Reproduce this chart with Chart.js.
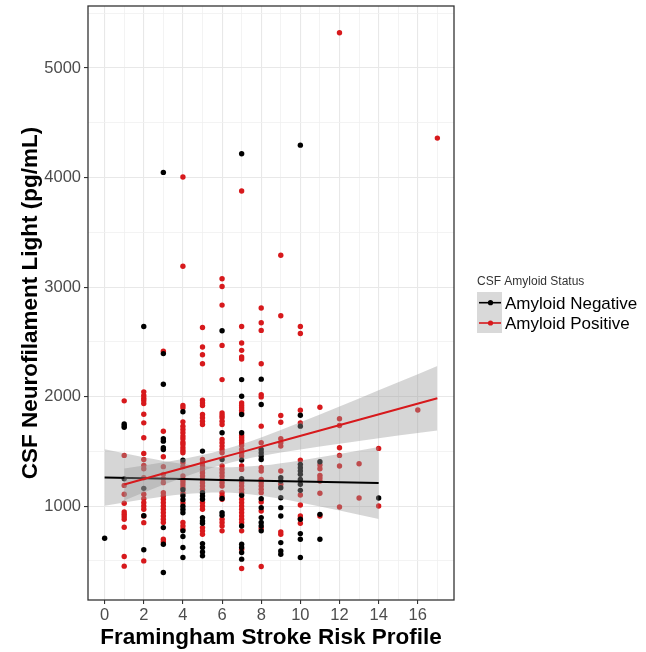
<!DOCTYPE html>
<html><head><meta charset="utf-8">
<script src="https://cdn.jsdelivr.net/npm/chart.js@4.4.1/dist/chart.umd.min.js"></script>
<style>html,body{margin:0;padding:0;background:#fff}#wrap{position:relative;width:646px;height:652px}</style>
</head><body><div id="wrap"><canvas id="c" width="646" height="652"></canvas></div>
<script>
// Framingham Stroke Risk Profile score (index) -> CSF NfL values (pg/mL)
const riskScores = [0,1,2,3,4,5,6,7,8,9,10,11,12,13,14,15,16,17];
const negativeNfl = [
  [708],
  [1750,1735,1720,1250],
  [2641,1163,914,602],
  [4047,2393,2113,1616,1594,1534,1518,805,653,395],
  [1862,1421,1150,1095,1060,1000,970,940,775,723,623,532],
  [1503,1124,1093,1063,896,866,845,659,623,583,547],
  [2602,1670,1427,1070,942,917],
  [4217,2156,2004,1837,1670,1421,1251,1100,820,653,623,577,517],
  [2160,1928,1518,1488,1458,1427,1069,987,896,851,820,775],
  [1260,1230,1169,1078,987,911,668,592,562],
  [4296,1831,1731,1382,1352,1321,1291,1245,1200,1145,881,750,699,532],
  [1406,926,699],
  [],
  [],
  [1075],
  [],
  [],
  []
];
const positiveNfl = [
  [],
  [1962,1464,1190,1109,1027,948,926,905,881,808,541,453],
  [2044,2010,1986,1965,1937,1840,1761,1625,1482,1427,1373,1342,1260,1109,1069,1033,1002,972,911,850,501],
  [2414,1685,1452,1361,1291,1251,1215,1124,1093,1063,1033,1002,972,942,911,881,851,699,675],
  [4005,3190,1919,1898,1770,1731,1701,1670,1640,1616,1585,1564,1534,1509,1488,1397,1361,1276,1245,1221,1197,1169,1120,1030,851,820,790],
  [2632,2453,2383,2301,1968,1943,1919,1837,1807,1776,1746,1427,1397,1367,1336,1306,1276,1245,1215,1184,1154,1033,1002,972,805,775,744],
  [3076,3006,2836,2468,2156,1852,1828,1807,1776,1746,1609,1579,1549,1518,1488,1367,1336,1306,1276,1245,1215,1184,1124,1093,1063,881,851,820,775],
  [3877,2641,2490,2423,2362,2344,1943,1919,1898,1877,1852,1646,1625,1603,1579,1555,1518,1488,1458,1367,1336,1215,1184,1154,1124,1063,1033,1002,972,942,911,881,851,775,608,432],
  [2809,2675,2605,2301,2019,1998,1731,1579,1352,1321,1245,1215,1184,1154,1124,1039,957,796,450],
  [3291,2739,1828,1767,1616,1579,1549,1321,1200,766,744],
  [2641,2577,1877,1761,1421,1103,1011,911,887,845],
  [1904,1376,1342,1282,1257,1230,1118,911],
  [5322,1798,1737,1534,1464,1367,993],
  [1388,1075],
  [1528,1002],
  [],
  [1878],
  [4360]
];
// fitted lines and 95% bands
const negFitX = [0,2,4,6,8,10,12,14];
const negFit = [1262,1255,1248,1240,1233,1226,1219,1212];
const negUpper = [1520,1447,1386,1355,1371,1418,1477,1540];
const negLower = [1004,1063,1110,1125,1095,1034,961,884];
const posFitX = [1,3,5,7,9,11,13,15,17];
const posFit = [1199,1298,1396,1494,1593,1691,1790,1888,1986];
const posUpper = [1345,1401,1468,1566,1696,1837,1984,2131,2280];
const posLower = [1053,1195,1324,1422,1490,1545,1596,1645,1692];
const xTicks = [0,1,2,3,4,5,6,7,8,9,10,11,12,13,14,15,16,17];
const yTicks = [500,1000,1500,2000,2500,3000,3500,4000,4500,5000,5500];
const seriesNames = ['Amyloid Negative','Amyloid Positive'];
const legendTitle = 'CSF Amyloid Status';

const RED = '#d7191c';
const BAND = 'rgba(153,153,153,0.4)';
const FONT = "'Liberation Sans', Arial, sans-serif";

const toPts = groups => groups.flatMap((vals, i) => vals.map(v => ({x: riskScores[i], y: v})));
const zipPts = (xs, ys) => xs.map((x, i) => ({x, y: ys[i]}));

const bandStyle = {type:'line', showLine:true, borderWidth:0, borderColor:'rgba(0,0,0,0)', pointRadius:0, cubicInterpolationMode:'monotone'};

const legendPlugin = {
  id:'ggLegend',
  afterDraw(chart){
    const c = chart.ctx, a = chart.chartArea;
    c.save();
    c.strokeStyle = '#333333'; c.lineWidth = 1.3;
    c.strokeRect(a.left, a.top, a.right - a.left, a.bottom - a.top);
    // legend
    c.fillStyle = '#333333';
    c.font = "12px " + FONT;
    c.textBaseline = 'alphabetic';
    c.fillText(legendTitle, 477, 285);
    c.fillStyle = '#d9d9d9';
    c.fillRect(477, 292, 25, 41);
    const rows = [[302.7, '#000000', 308.5],[323.0, RED, 329]];
    rows.forEach((r, i) => {
      c.strokeStyle = r[1]; c.lineWidth = 1.6;
      c.beginPath(); c.moveTo(479, r[0]); c.lineTo(501, r[0]); c.stroke();
      c.fillStyle = r[1];
      c.beginPath(); c.arc(490.5, r[0], 2.6, 0, Math.PI*2); c.fill();
      c.fillStyle = '#000000';
      c.font = "17px " + FONT;
      c.fillText(seriesNames[i], 505, r[2]);
    });
    c.restore();
  }
};

new Chart(document.getElementById('c'), {
  type:'scatter',
  data:{datasets:[
    {label:seriesNames[1], data:toPts(positiveNfl), backgroundColor:RED, borderWidth:0, pointRadius:2.7, order:11},
    {label:seriesNames[0], data:toPts(negativeNfl), backgroundColor:'#000000', borderWidth:0, pointRadius:2.7, order:10},
    Object.assign({label:'negLower', data:zipPts(negFitX, negLower), fill:false, order:5}, bandStyle),
    Object.assign({label:'negUpper', data:zipPts(negFitX, negUpper), fill:2, backgroundColor:BAND, order:5}, bandStyle),
    {type:'line', label:'negFit', data:zipPts(negFitX, negFit), borderColor:'#000000', borderWidth:2, pointRadius:0, fill:false, order:4},
    Object.assign({label:'posLower', data:zipPts(posFitX, posLower), fill:false, order:3}, bandStyle),
    Object.assign({label:'posUpper', data:zipPts(posFitX, posUpper), fill:5, backgroundColor:BAND, order:3}, bandStyle),
    {type:'line', label:'posFit', data:zipPts(posFitX, posFit), borderColor:RED, borderWidth:2, pointRadius:0, fill:false, order:2}
  ]},
  options:{
    responsive:false, animation:false, events:[],
    layout:{padding:{top:6, right:192, left:0, bottom:0}},
    plugins:{legend:{display:false}, tooltip:{enabled:false}},
    scales:{
      x:{
        type:'linear', min:-0.85, max:17.85,
        afterBuildTicks(axis){ axis.ticks = xTicks.map(v => ({value:v})); },
        afterFit(s){ s.height = 52; s.paddingLeft = 0; s.paddingRight = 0; },
        border:{display:false},
        grid:{
          color:ctx => (ctx.tick && ctx.tick.value % 2 === 0) ? '#e8e8e8' : '#f0f0f0',
          lineWidth:ctx => (ctx.tick && ctx.tick.value % 2 === 0) ? 1.1 : 0.8,
          tickColor:ctx => (ctx.tick && ctx.tick.value % 2 === 0) ? '#333333' : 'rgba(0,0,0,0)',
          tickLength:4, drawTicks:true
        },
        ticks:{autoSkip:false, maxRotation:0, padding:2, color:'#4d4d4d', font:{family:FONT, size:16.5},
          callback:v => (v % 2 === 0 ? String(v) : '')},
        title:{display:true, text:'Framingham Stroke Risk Profile', color:'#000', font:{family:FONT, size:22.5, weight:'bold'}, padding:{top:0, bottom:1}}
      },
      y:{
        type:'linear', min:144, max:5566,
        afterBuildTicks(axis){ axis.ticks = yTicks.map(v => ({value:v})); },
        afterFit(s){ s.width = 88; s.paddingTop = 0; s.paddingBottom = 0; },
        border:{display:false},
        grid:{
          color:ctx => (ctx.tick && ctx.tick.value % 1000 === 0) ? '#e8e8e8' : '#f0f0f0',
          lineWidth:ctx => (ctx.tick && ctx.tick.value % 1000 === 0) ? 1.1 : 0.8,
          tickColor:ctx => (ctx.tick && ctx.tick.value % 1000 === 0) ? '#333333' : 'rgba(0,0,0,0)',
          tickLength:4
        },
        ticks:{autoSkip:false, padding:3, color:'#4d4d4d', font:{family:FONT, size:16.5},
          callback:v => (v % 1000 === 0 ? String(v) : '')},
        title:{display:true, text:'CSF Neurofilament Light (pg/mL)', color:'#000', font:{family:FONT, size:22.5, weight:'bold'}, padding:{top:17, bottom:0}}
      }
    }
  },
  plugins:[legendPlugin]
});
</script></body></html>
